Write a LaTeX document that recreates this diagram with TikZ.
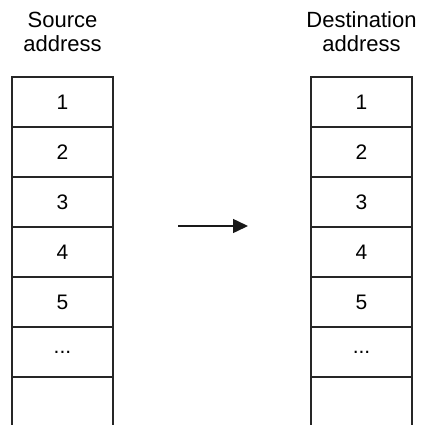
\documentclass[tikz,border=0pt]{standalone}
\usepackage{fontspec}
\setmainfont{Liberation Sans}
\usetikzlibrary{arrows.meta}
\begin{document}
\begin{tikzpicture}[x=1pt,y=-1pt,
  cell/.style={draw=black!85,line width=1.6pt,outer sep=0pt,minimum width=101pt,minimum height=50pt,inner sep=0pt,font=\fontsize{21}{25}\selectfont},
  opencell/.style={outer sep=0pt,minimum width=101pt,minimum height=50pt,inner sep=0pt},
  head/.style={align=center,font=\fontsize{22}{24}\selectfont},
  side/.style={draw=black!85,line width=1.6pt},
  flow/.style={draw=black!90,line width=1.5pt,-{Triangle[length=15pt,width=14pt]}}]
\useasboundingbox (0,0) rectangle (424,425);
\node[head] (hs) at (62.5,32) {Source\\address};
\node[head] (hd) at (361.5,32) {Destination\\address};
\foreach \c/\x in {s/62.5,d/361.5}{
  \node[cell] (\c1) at (\x,102) {1};
  \node[cell] (\c2) at (\x,152) {2};
  \node[cell] (\c3) at (\x,202) {3};
  \node[cell] (\c4) at (\x,252) {4};
  \node[cell] (\c5) at (\x,302) {5};
  \node[cell] (\c6) at (\x,352) {...};
  \node[opencell] (\c7) at (\x,402) {};
  \coordinate (\c bl) at (\x-50.5,426);
  \coordinate (\c br) at (\x+50.5,426);
  \draw[side] (\c6.south west) -- (\c bl);
  \draw[side] (\c6.south east) -- (\c br);
}
\coordinate (a1) at (178,226);
\coordinate (a2) at (248,226);
\draw[flow] (a1) -- (a2);
\end{tikzpicture}
\end{document}
